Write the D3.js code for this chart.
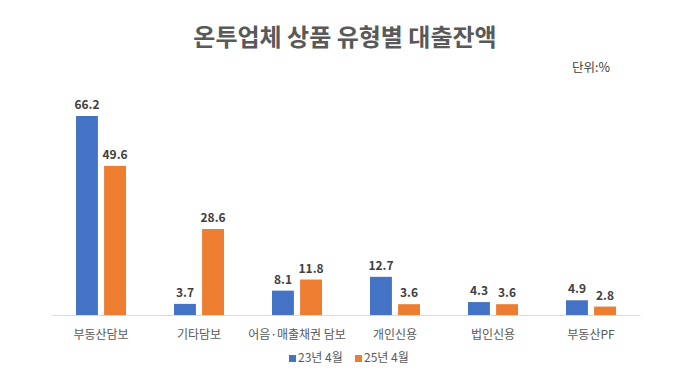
<!DOCTYPE html>
<html><head><meta charset="utf-8">
<script src="https://cdn.jsdelivr.net/npm/d3@7"></script>
<style>body{margin:0;background:#fff;} text{font-family:"Noto Sans CJK KR","Noto Sans",sans-serif;}</style>
</head><body>
<svg id="c" width="680" height="391"></svg>
<script>
const categories = ["부동산담보","기타담보","어음·매출채권 담보","개인신용","법인신용","부동산PF"];
const seriesNames = ["23년 4월","25년 4월"];
const values23 = [66.2,3.7,8.1,12.7,4.3,4.9];
const values25 = [49.6,28.6,11.8,3.6,3.6,2.8];
const colors = ["#4472C4","#ED7D31"];

const svg = d3.select("#c");
const left=52, right=640, baseY=315, topY=116;
const x = d3.scaleBand().domain(categories).range([left,right]);
const y = d3.scaleLinear().domain([0,66.2]).range([baseY,topY]);
const xi = d3.scaleBand().domain(seriesNames).range([-25,25]).paddingInner(0.22);

svg.append("text").attr("x",345).attr("y",46).attr("text-anchor","middle")
  .attr("font-size",24).attr("font-weight","bold").attr("fill","#595959").text("온투업체 상품 유형별 대출잔액");
svg.append("text").attr("x",572).attr("y",72).attr("font-size",12.5).attr("fill","#404040").text("단위:%");

const data = categories.map((c,i)=>({c, v:[values23[i],values25[i]]}));
const g = svg.selectAll("g.grp").data(data).join("g").attr("class","grp")
  .attr("transform",d=>`translate(${x(d.c)+x.bandwidth()/2},0)`);
g.selectAll("rect").data(d=>d.v.map((v,j)=>({v,s:seriesNames[j],j}))).join("rect")
  .attr("x",d=>xi(d.s)).attr("width",xi.bandwidth())
  .attr("y",d=>y(d.v)).attr("height",d=>baseY-y(d.v)).attr("fill",d=>colors[d.j]);
g.selectAll("text.val").data(d=>d.v.map((v,j)=>({v,s:seriesNames[j],j}))).join("text").attr("class","val")
  .attr("x",d=>xi(d.s)+xi.bandwidth()/2).attr("y",d=>y(d.v)-7).attr("text-anchor","middle")
  .attr("font-size",12).attr("font-weight","bold").attr("fill","#404040").text(d=>d.v.toFixed(1));

const ax = svg.append("g").attr("transform",`translate(0,${baseY})`).call(d3.axisBottom(x).tickSize(0).tickPadding(15));
ax.select(".domain").attr("stroke","#d9d9d9");
ax.selectAll("text").attr("font-size",12).attr("fill","#595959").style("font-family","\"Noto Sans CJK KR\",sans-serif");

const leg = svg.append("g").attr("transform","translate(289,362)");
seriesNames.forEach((s,i)=>{
  const lg = leg.append("g").attr("transform",`translate(${i*66},0)`);
  lg.append("rect").attr("x",0).attr("y",-7).attr("width",7).attr("height",7).attr("fill",colors[i]);
  lg.append("text").attr("x",9).attr("y",0).attr("font-size",12).attr("fill","#595959").text(s);
});
</script>
</body></html>
